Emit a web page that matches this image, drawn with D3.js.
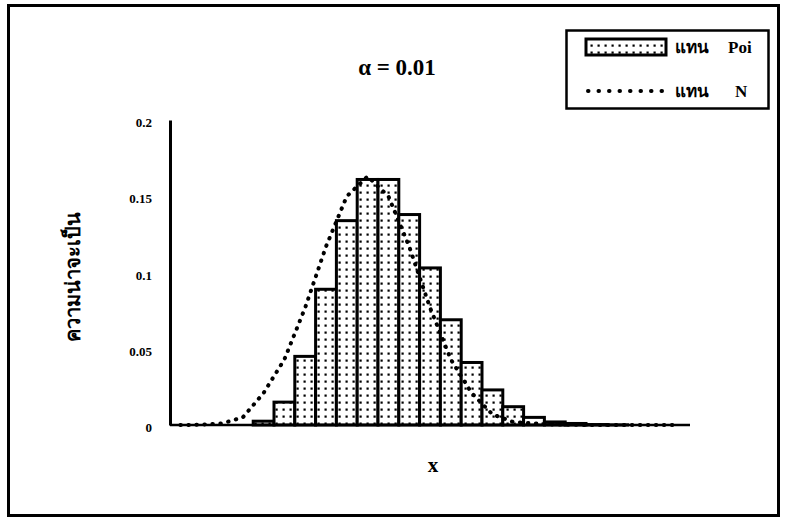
<!DOCTYPE html>
<head>
<meta charset="utf-8">
<title>alpha = 0.01</title>
<script type="text/javascript" src="https://d3js.org/d3.v7.min.js"></script>
<style>
body { margin: 0; background: #fff; }
text { font-family: "Liberation Serif", "DejaVu Serif", serif; font-weight: bold; fill: #000; }
</style>
</head>
<body>
<div id="chart"></div>
<script>
// categories (x values), first four categories have no poisson mass
var categories = d3.range(-4, 21);

// poisson bars
var poisValues = [0, 0, 0, 0, 0.0025, 0.015, 0.045, 0.089, 0.134, 0.161, 0.161, 0.138,
  0.103, 0.069, 0.041, 0.023, 0.012, 0.005, 0.002, 0.001, 0.0003, 0.0001, 0, 0, 0];

// normal curve
var normValues = [0, 0.0002, 0.001, 0.005, 0.021, 0.043, 0.077, 0.117, 0.150, 0.163,
  0.150, 0.117, 0.077, 0.043, 0.021, 0.007, 0.002, 0.001, 0.0003, 0.0001, 0, 0, 0, 0, 0];

var yTicks = [0, 0.05, 0.1, 0.15, 0.2];
var yTickLabels = ["0", "0.05", "0.1", "0.15", "0.2"];

var W = 786, H = 519;
var svg = d3.select("#chart").append("svg")
  .attr("width", W).attr("height", H);

// outer frame
svg.append("rect")
  .attr("x", 8.5).attr("y", 5.5)
  .attr("width", 770).attr("height", 510)
  .attr("fill", "none").attr("stroke", "#000").attr("stroke-width", 3);

// dot pattern for the bars
var defs = svg.append("defs");
var pat = defs.append("pattern")
  .attr("id", "dots").attr("patternUnits", "userSpaceOnUse")
  .attr("width", 7).attr("height", 7);
pat.append("rect").attr("width", 7).attr("height", 7).attr("fill", "#fff");
pat.append("rect").attr("x", 2.5).attr("y", 2.5).attr("width", 2.2).attr("height", 2.2).attr("fill", "#000");

var plot = {left: 170, right: 690, top: 120, bottom: 425};

var x = d3.scaleBand()
  .domain(categories)
  .range([plot.left, plot.right])
  .padding(0);

var y = d3.scaleLinear()
  .domain([0, 0.2])
  .range([plot.bottom, plot.top]);

// bars
svg.append("g").selectAll("rect")
  .data(poisValues.map(function(v, i) { return {c: categories[i], v: v}; }).filter(function(d) { return d.v > 0; }))
  .enter().append("rect")
  .attr("x", function(d) { return x(d.c); })
  .attr("y", function(d) { return y(d.v); })
  .attr("width", x.bandwidth())
  .attr("height", function(d) { return y(0) - y(d.v); })
  .attr("fill", "url(#dots)")
  .attr("stroke", "#000")
  .attr("stroke-width", 3);

// normal line
var line = d3.line()
  .x(function(d, i) { return x(categories[i]) + x.bandwidth() / 2; })
  .y(function(d) { return y(d); });

svg.append("path")
  .datum(normValues)
  .attr("fill", "none")
  .attr("stroke", "#000")
  .attr("stroke-width", 4)
  .attr("stroke-linecap", "round")
  .attr("stroke-dasharray", "0.5,7.5")
  .attr("d", line);

// y axis
var yAxis = d3.axisLeft(y)
  .tickValues(yTicks)
  .tickFormat(function(d, i) { return yTickLabels[i]; })
  .tickSize(0)
  .tickPadding(18);

var gy = svg.append("g")
  .attr("transform", "translate(" + plot.left + ",0)")
  .call(yAxis);
gy.select(".domain").attr("stroke", "#000").attr("stroke-width", 3);
gy.selectAll("text")
  .attr("dy", "0.5em")
  .style("font-size", "13px")
  .style("font-family", "'Liberation Serif', serif")
  .style("font-weight", "bold");

// x axis line
svg.append("line")
  .attr("x1", plot.left).attr("x2", plot.right)
  .attr("y1", y(0)).attr("y2", y(0))
  .attr("stroke", "#000").attr("stroke-width", 2.5);

// title
svg.append("text")
  .attr("x", 397).attr("y", 75)
  .attr("text-anchor", "middle")
  .style("font-size", "23px")
  .text("α = 0.01");

// axis titles
svg.append("text")
  .attr("x", 433).attr("y", 472)
  .attr("text-anchor", "middle")
  .style("font-size", "21px")
  .text("x");

svg.append("text")
  .attr("transform", "translate(80,277) rotate(-90)")
  .attr("text-anchor", "middle")
  .style("font-size", "20px")
  .text("ความน่าจะเป็น");

// legend
var lg = svg.append("g");
lg.append("rect")
  .attr("x", 566.5).attr("y", 30.5)
  .attr("width", 202).attr("height", 78)
  .attr("fill", "#fff").attr("stroke", "#000").attr("stroke-width", 2.5);

lg.append("rect")
  .attr("x", 586).attr("y", 39)
  .attr("width", 80).attr("height", 16)
  .attr("fill", "url(#dots)").attr("stroke", "#000").attr("stroke-width", 3);

lg.append("text").attr("x", 675).attr("y", 53).style("font-size", "17px").text("แทน");
lg.append("text").attr("x", 728).attr("y", 53).style("font-size", "17px").text("Poi");

lg.append("line")
  .attr("x1", 588).attr("x2", 664)
  .attr("y1", 91).attr("y2", 91)
  .attr("stroke", "#000").attr("stroke-width", 4)
  .attr("stroke-linecap", "round")
  .attr("stroke-dasharray", "0.5,10");

lg.append("text").attr("x", 675).attr("y", 97).style("font-size", "17px").text("แทน");
lg.append("text").attr("x", 735).attr("y", 97).style("font-size", "17px").text("N");
</script>
</body>
